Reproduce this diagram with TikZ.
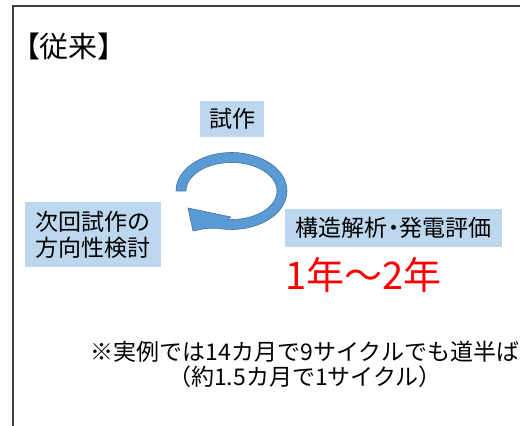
\documentclass[tikz,border=0pt]{standalone}
\usepackage{fontspec}
\setmainfont{Noto Sans CJK JP}
\newfontfamily\jpprop[RawFeature=+palt]{Noto Sans CJK JP}
\definecolor{boxblue}{HTML}{BDD7EE}
\definecolor{arrowfill}{HTML}{5B9BD5}
\definecolor{arrowline}{HTML}{41719C}
\definecolor{framegray}{HTML}{404040}
\tikzset{
  lbox/.style={fill=boxblue, inner sep=0pt, font=\fontsize{23}{26}\selectfont},
  plain/.style={inner sep=0pt, font=\fontsize{23}{25}\selectfont}
}
\begin{document}
\begin{tikzpicture}[x=1pt,y=1pt]
\useasboundingbox (0,0) rectangle (520,426);
% frame
\draw[framegray, line width=1.3pt] (13,0) -- (13,420) -- (520,420);
% title
\node[inner sep=0pt, anchor=west, font=\jpprop\fontsize{29}{32}\selectfont] (title) at (25,380) {【従来】};
% boxes
\node[lbox, minimum width=64pt, minimum height=36pt] (trial) at (232,307) {試作};
\node[lbox, minimum width=136pt, minimum height=65pt, align=left] (next) at (93,191.5) {次回試作の\\方向性検討};
\node[lbox, minimum width=217pt, minimum height=38pt, font=\jpprop\fontsize{23}{26}\selectfont] (eval) at (393.5,198) {構造解析・発電評価};
% red duration
\node[inner sep=0pt, text=red, font=\fontsize{38}{40}\selectfont] (dur) at (363.5,151) {1年～2年};
% note
\node[plain, align=center] (note) at (305,62) {※実例では14カ月で9サイクルでも道半ば\\（約1.5カ月で1サイクル）};
% circular arrow
\filldraw[fill=arrowfill, draw=arrowline, line width=0.6pt]
  (176,235) arc[start angle=180, end angle=-105, x radius=55.5, y radius=38.5]
  -- (205,197.5) -- (193,195) -- (188,218) -- (231,209) -- (227,206)
  -- (231.5,206.5)
  arc[start angle=-90, end angle=180, x radius=45.5, y radius=28.5] -- cycle;
\end{tikzpicture}
\end{document}
